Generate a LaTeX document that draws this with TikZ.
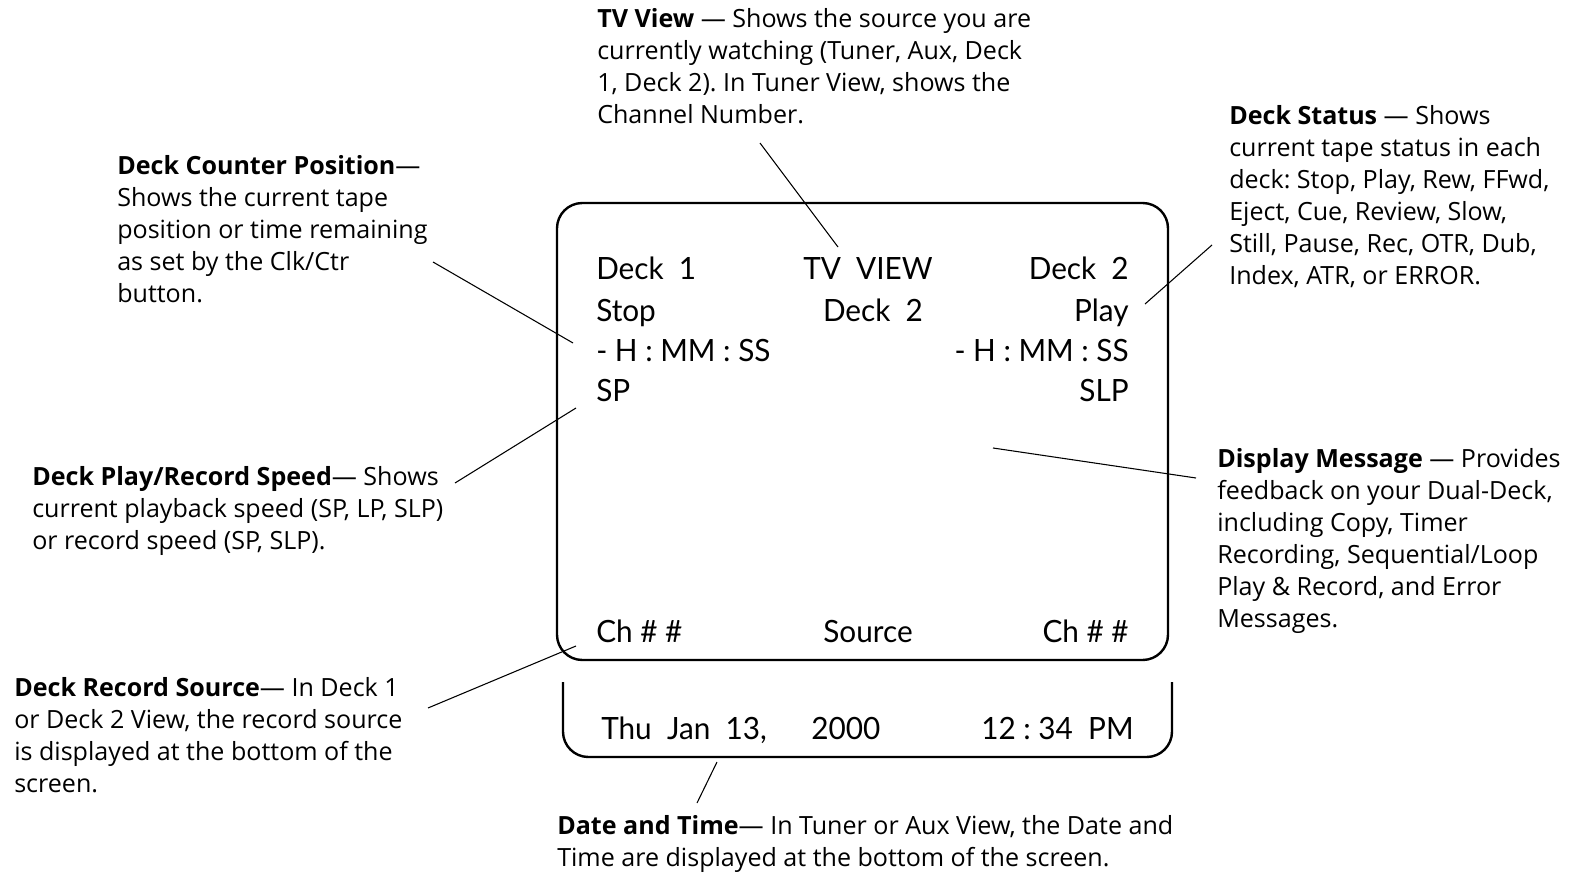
\documentclass[tikz,border=0pt]{standalone}
\usepackage{fontspec}
\setmainfont{Open Sans}
\newfontfamily\screenfont[FakeStretch=0.97]{Lato}
\frenchspacing
\tikzset{
  desc/.style={align=left, anchor=north west, inner sep=0pt,
    font=\fontsize{18.8}{24}\selectfont, execute at begin node=\rule{0pt}{15pt}},
  scr/.style={inner sep=0pt, font=\screenfont\fontsize{23}{28}\selectfont},
  leader/.style={line width=0.8pt},
  frame/.style={line width=1.8pt, rounded corners=19pt}
}
\begin{document}
\begin{tikzpicture}[x=0.75pt,y=-0.75pt]
\useasboundingbox (0,0) rectangle (1578,877);

% Bildschirm
\draw[frame] (557,203) rectangle (1168,660);
\draw[frame] (563,682) -- (563,757) -- (1172,757) -- (1172,682);

% Anzeige
\node[scr,anchor=base west] (deckA) at (596,280) {Deck\ \ 1};
\node[scr,anchor=base] (tvv) at (868,280) {TV\ \ VIEW};
\node[scr,anchor=base east] (deckB) at (1129,280) {Deck\ \ 2};
\node[scr,anchor=base west] (stop) at (596,321) {Stop};
\node[scr,anchor=base] (srcdeck) at (873,321) {Deck\ \ 2};
\node[scr,anchor=base east] (play) at (1129,321) {Play};
\node[scr,anchor=base west] (ctrA) at (596,361) {- H : MM : SS};
\node[scr,anchor=base east] (ctrB) at (1129,361) {- H : MM : SS};
\node[scr,anchor=base west] (spA) at (596,401) {SP};
\node[scr,anchor=base east] (spB) at (1129,401) {SLP};
\node[scr,anchor=base west] (chA) at (596,642) {Ch \# \#};
\node[scr,anchor=base] (src) at (868,642) {Source};
\node[scr,anchor=base east] (chB) at (1129,642) {Ch \# \#};
\node[scr,anchor=base west] (date) at (601,739) {Thu\ \ Jan\ \ 13,};
\node[scr,anchor=base west] (year) at (811,739) {2000};
\node[scr,anchor=base east] (clock) at (1134,739) {12 : 34\ \ PM};

% Beschriftungen
\node[desc] (tvview) at (597,8) {\textbf{TV View} — Shows the source you are\\currently watching (Tuner, Aux, Deck\\1, Deck 2). In Tuner View, shows the\\Channel Number.};
\node[desc] (deckstatus) at (1229,105) {\textbf{Deck Status} — Shows\\current tape status in each\\deck: Stop, Play, Rew, FFwd,\\Eject, Cue, Review, Slow,\\Still, Pause, Rec, OTR, Dub,\\Index, ATR, or ERROR.};
\node[desc] (counterpos) at (117,155) {\textbf{Deck Counter Position}—\\Shows the current tape\\position or time remaining\\as set by the Clk/Ctr\\button.};
\node[desc] (playspeed) at (32,466) {\textbf{Deck Play/Record Speed}— Shows\\current playback speed (SP, LP, SLP)\\or record speed (SP, SLP).};
\node[desc] (dispmsg) at (1217,448) {\textbf{Display Message} — Provides\\feedback on your Dual-Deck,\\including Copy, Timer\\Recording, Sequential/Loop\\Play \& Record, and Error\\Messages.};
\node[desc] (recsource) at (14,677) {\textbf{Deck Record Source}— In Deck 1\\or Deck 2 View, the record source\\is displayed at the bottom of the\\screen.};
\node[desc] (datetime) at (557,815) {\textbf{Date and Time}— In Tuner or Aux View, the Date and\\Time are displayed at the bottom of the screen.};

% Hinweislinien
\coordinate (tvvA) at (760,143);   \coordinate (tvvB) at (838,247);
\coordinate (stA) at (1212,245);   \coordinate (stB) at (1145,304);
\coordinate (ctrL) at (433,262);   \coordinate (ctrR) at (573,343);
\coordinate (spL) at (455,483);    \coordinate (spR) at (576,408);
\coordinate (msgA) at (1196,478);  \coordinate (msgB) at (993,448);
\coordinate (recL) at (428,708);   \coordinate (recR) at (576,646);
\coordinate (dtA) at (697,803);    \coordinate (dtB) at (717,762);
\foreach \a/\b in {tvvA/tvvB, stA/stB, ctrL/ctrR, spL/spR, msgA/msgB, recL/recR, dtA/dtB}
  \draw[leader] (\a) -- (\b);
\end{tikzpicture}
\end{document}
